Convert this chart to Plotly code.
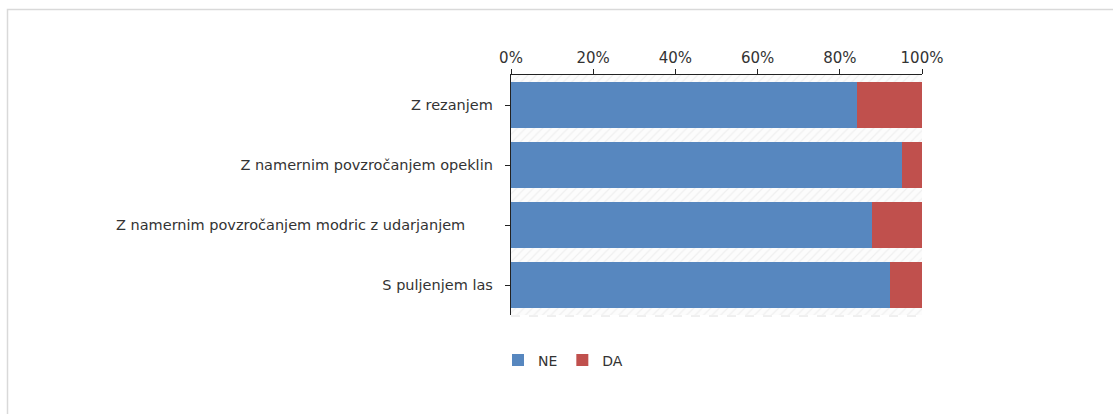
import plotly.graph_objects as go

categories = [
    "Z rezanjem",
    "Z namernim povzročanjem opeklin",
    "Z namernim povzročanjem modric z udarjanjem",
    "S puljenjem las",
]
ne_values = [84.1, 95.2, 87.8, 92.3]
da_values = [15.9, 4.8, 12.2, 7.7]
tick_vals = [0, 20, 40, 60, 80, 100]
tick_text = ["0%", "20%", "40%", "60%", "80%", "100%"]

pad = "\u00a0" * 2
labels = [c + pad for c in categories]
labels[2] = categories[2] + "\u00a0" * 8

W, H = 1113, 414
L, R, T, B = 511, 191, 75, 99
pw, ph = W - L - R, H - T - B

fig = go.Figure()
# hatched background
fig.add_trace(go.Bar(
    y=labels, x=[100] * len(labels), orientation="h", width=1,
    marker=dict(color="rgba(255,255,255,0)", line=dict(width=0),
                pattern=dict(shape="/", fgcolor="#e2e2e2", bgcolor="#fcfcfc", size=6, solidity=0.2)),
    showlegend=False, hoverinfo="skip",
))
fig.add_trace(go.Bar(
    y=labels, x=ne_values, orientation="h", name="NE",
    marker=dict(color="#5787bf", line=dict(width=0)), width=0.78,
))
fig.add_trace(go.Bar(
    y=labels, x=da_values, base=ne_values, orientation="h", name="DA",
    marker=dict(color="#c0504d", line=dict(width=0)), width=0.78,
))

def px_x(p):
    return (p - L) / pw

def px_y(p):
    return (T + ph - p) / ph

fig.update_layout(
    width=W, height=H,
    margin=dict(l=L, r=R, t=T, b=B, pad=0),
    barmode="overlay",
    bargap=0,
    paper_bgcolor="white",
    plot_bgcolor="white",
    font=dict(family="DejaVu Sans", size=14, color="#333333"),
    showlegend=True,
    legend=dict(orientation="h", x=px_x(498), y=px_y(344.5), xanchor="left", yanchor="top",
                font=dict(size=14, color="#333333"), itemwidth=30,
                traceorder="normal", bgcolor="rgba(0,0,0,0)"),
    xaxis=dict(
        side="top", range=[0, 100], tickvals=tick_vals, ticktext=tick_text,
        tickfont=dict(size=15),
        showgrid=True, gridcolor="#e3e3e3", gridwidth=1,
        showline=True, linecolor="#222222", linewidth=1,
        ticks="outside", ticklen=5, tickcolor="#222222",
        zeroline=False, fixedrange=True,
    ),
    yaxis=dict(
        autorange="reversed", showgrid=False,
        tickfont=dict(size=14.5),
        showline=True, linecolor="#222222", linewidth=1,
        ticks="outside", ticklen=5, tickcolor="#222222",
        fixedrange=True,
    ),
    shapes=[
        dict(type="rect", xref="paper", yref="paper",
             x0=px_x(7.5), x1=px_x(1200), y0=px_y(500), y1=px_y(9.5),
             line=dict(color="#d9d9d9", width=1.5), fillcolor="rgba(0,0,0,0)", layer="below"),
        dict(type="line", xref="paper", yref="paper",
             x0=0, x1=1, y0=px_y(316), y1=px_y(316),
             line=dict(color="#e0e0e0", width=1, dash="dash")),
    ],
)

fig.write_html("out.html", config={"displayModeBar": False},
               post_script="document.body.style.margin='0';document.body.style.padding='0';")
